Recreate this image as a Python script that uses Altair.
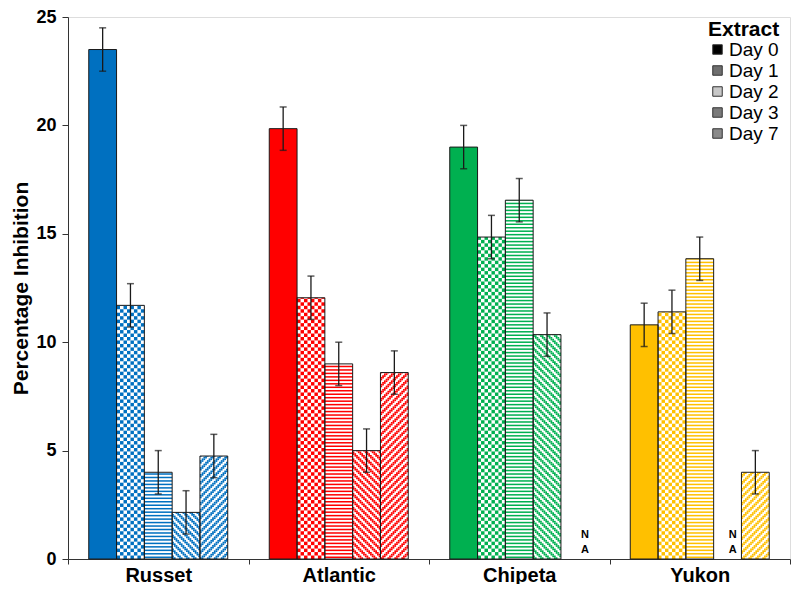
import math
import altair as alt
import pandas as pd

# ---------------- data ----------------
varieties = ["Russet", "Atlantic", "Chipeta", "Yukon"]
days = ["Day 0", "Day 1", "Day 2", "Day 3", "Day 7"]
variety_colors = ["#0070C0", "#FF0000", "#00B050", "#FFC000"]

russet = [23.5, 11.7, 4.0, 2.15, 4.75]
atlantic = [19.85, 12.05, 9.0, 5.0, 8.6]
chipeta = [19.0, 14.85, 16.55, 10.35, None]
yukon = [10.8, 11.4, 13.85, None, 4.0]

russet_err = [1.0, 1.0, 1.0, 1.0, 1.0]
atlantic_err = [1.0, 1.0, 1.0, 1.0, 1.0]
chipeta_err = [1.0, 1.0, 1.0, 1.0, None]
yukon_err = [1.0, 1.0, 1.0, None, 1.0]

y_ticks = [0, 5, 10, 15, 20, 25]
legend_grays = ["#000000", "#6e6e6e", "#c8c8c8", "#7a7a7a", "#8a8a8a"]

values = [russet, atlantic, chipeta, yukon]
errors = [russet_err, atlantic_err, chipeta_err, yukon_err]

# ---------------- style constants ----------------
FONT = "Liberation Sans"
W, H = 722, 542
FILL_RATIO = 0.77  # share of each category slot covered by its bars
CHK_N = 8          # checker columns per bar
DIAG_N = 16        # diagonal sub-columns per bar
CHK_H = 0.16       # checker row height (data units)
DIAG_H = 0.08      # diagonal row height (data units)
HS_P, HS_T = 0.16, 0.07   # horizontal stripe period / thickness

# ---------------- tables built from the arrays ----------------
bars, errs, nas, chk, hst, diag = [], [], [], [], [], []
for v, vals, es, col in zip(varieties, values, errors, variety_colors):
    for di, d in enumerate(days):
        val = vals[di]
        if val is None:
            nas.append(dict(v=v, d=d, y=0, t="N\nA"))
            continue
        bars.append(dict(v=v, d=d, y=val, f=col if di == 0 else "#ffffff"))
        errs.append(dict(v=v, d=d, lo=val - es[di], hi=val + es[di]))
        if di == 1:
            for r in range(math.ceil(val / CHK_H)):
                y0, y1 = r * CHK_H, min(val, (r + 1) * CHK_H)
                for c in range(CHK_N):
                    if (r + c) % 2 == 0:
                        chk.append(dict(v=v, s=f"{di}_{c:02d}", y=y0, y2=y1, f=col))
        elif di == 2:
            k = 0
            while k * HS_P < val:
                y0 = k * HS_P + (HS_P - HS_T) / 2
                y1 = min(val, y0 + HS_T)
                if y1 > y0:
                    hst.append(dict(v=v, d=d, y=y0, y2=y1, f=col))
                k += 1
        elif di in (3, 4):
            for r in range(math.ceil(val / DIAG_H)):
                y0, y1 = r * DIAG_H, min(val, (r + 1) * DIAG_H)
                for c in range(DIAG_N):
                    ph = (c + r) % 4 if di == 3 else (c - r) % 4
                    if ph < 2:
                        diag.append(dict(v=v, s=f"{di}_{c:02d}", y=y0, y2=y1, f=col))

bars_df, errs_df, nas_df = pd.DataFrame(bars), pd.DataFrame(errs), pd.DataFrame(nas)
chk_df, hst_df, diag_df = pd.DataFrame(chk), pd.DataFrame(hst), pd.DataFrame(diag)
legend_df = pd.DataFrame({"Day": days})

chk_domain = [f"{d}_{c:02d}" for d in range(5) for c in range(CHK_N)]
diag_domain = [f"{d}_{c:02d}" for d in range(5) for c in range(DIAG_N)]

# ---------------- encodings ----------------
xscale = alt.Scale(domain=varieties, paddingInner=0, paddingOuter=0)
xaxis = alt.Axis(title=None, labelAngle=0, labelFont=FONT, labelFontSize=20,
                 labelFontWeight="bold", labelColor="#000", tickBand="extent",
                 tickSize=5, tickColor="#333", domainColor="#333", labelPadding=1)
yscale = alt.Scale(domain=[0, 25], nice=False, zero=True)
yaxis = alt.Axis(values=y_ticks, title="Percentage Inhibition", grid=False,
                 labelFont=FONT, labelFontSize=18, labelFontWeight="bold",
                 labelColor="#000", tickSize=6, tickColor="#333", domainColor="#333",
                 labelPadding=6, titleFont=FONT, titleFontSize=21,
                 titleFontWeight="bold", titleColor="#000", titlePadding=4)


def X():
    return alt.X("v:N", scale=xscale, axis=xaxis, sort=varieties)


def off_scale(domain):
    # empty slots on both sides keep the bars to FILL_RATIO of each category slot
    total = len(domain) * (1 / FILL_RATIO - 1) / 2
    k = int(math.floor(total))
    frac = total - k
    full = [f"<{i}" for i in range(k)] + list(domain) + [f">{i}" for i in range(k)]
    return alt.Scale(domain=full, paddingInner=0, paddingOuter=frac), full


def off_day():
    sc, full = off_scale(days)
    return alt.XOffset("d:N", scale=sc, sort=full)


def off_sub(domain):
    sc, full = off_scale(domain)
    return alt.XOffset("s:N", scale=sc, sort=full)


base = alt.Chart(bars_df).mark_bar(strokeWidth=0).encode(
    x=X(), xOffset=off_day(),
    y=alt.Y("y:Q", scale=yscale, axis=yaxis),
    fill=alt.Fill("f:N", scale=None),
)

chk_layer = alt.Chart(chk_df).mark_bar(strokeWidth=0).encode(
    x=X(), xOffset=off_sub(chk_domain),
    y=alt.Y("y:Q", scale=yscale, axis=yaxis), y2="y2:Q",
    fill=alt.Fill("f:N", scale=None),
)

hst_layer = alt.Chart(hst_df).mark_bar(strokeWidth=0).encode(
    x=X(), xOffset=off_day(),
    y=alt.Y("y:Q", scale=yscale, axis=yaxis), y2="y2:Q",
    fill=alt.Fill("f:N", scale=None),
)

diag_layer = alt.Chart(diag_df).mark_bar(strokeWidth=0).encode(
    x=X(), xOffset=off_sub(diag_domain),
    y=alt.Y("y:Q", scale=yscale, axis=yaxis), y2="y2:Q",
    fill=alt.Fill("f:N", scale=None),
)

outline = alt.Chart(bars_df).mark_bar(fill="#ffffff", fillOpacity=0, stroke="#1a1a1a",
                                      strokeWidth=1).encode(
    x=X(), xOffset=off_day(),
    y=alt.Y("y:Q", scale=yscale, axis=yaxis),
)

err_rule = alt.Chart(errs_df).mark_rule(color="#1a1a1a", strokeWidth=1.3).encode(
    x=X(), xOffset=off_day(),
    y=alt.Y("lo:Q", scale=yscale, axis=yaxis), y2="hi:Q",
)
cap_lo = alt.Chart(errs_df).mark_tick(color="#1a1a1a", thickness=1.5, size=7,
                                      orient="horizontal").encode(
    x=X(), xOffset=off_day(), y=alt.Y("lo:Q", scale=yscale, axis=yaxis),
)
cap_hi = alt.Chart(errs_df).mark_tick(color="#1a1a1a", thickness=1.5, size=7,
                                      orient="horizontal").encode(
    x=X(), xOffset=off_day(), y=alt.Y("hi:Q", scale=yscale, axis=yaxis),
)

na_text = alt.Chart(nas_df).mark_text(font=FONT, fontSize=11, fontWeight="bold",
                                      color="#000", baseline="bottom", lineBreak="\n",
                                      lineHeight=15, dy=-19).encode(
    x=X(), xOffset=off_day(),
    y=alt.Y("y:Q", scale=yscale, axis=yaxis),
    text="t:N",
)

legend_layer = alt.Chart(legend_df).mark_square(size=90, opacity=1, clip=True).encode(
    x=alt.value(-200), y=alt.value(-200),
    color=alt.Color("Day:N", sort=days,
                    scale=alt.Scale(domain=days, range=legend_grays),
                    legend=alt.Legend(
                        orient="none", legendX=640, legendY=2,
                        title="Extract", titleFont=FONT, titleFontSize=21,
                        titleFontWeight="bold", titleColor="#000", titlePadding=0,
                        labelFont=FONT, labelFontSize=19, labelColor="#000",
                        symbolType="square", symbolSize=90, symbolStrokeColor="#333",
                        symbolStrokeWidth=1, symbolOpacity=1, rowPadding=1,
                        labelOffset=2)),
)

chart = alt.layer(
    base, chk_layer, hst_layer, diag_layer, outline, err_rule, cap_lo, cap_hi,
    na_text, legend_layer,
).resolve_scale(xOffset="independent").properties(
    width=W, height=H,
    autosize=alt.AutoSizeParams(type="none"),
    padding={"left": 60, "top": 9, "right": 2, "bottom": 25},
).configure_view(stroke="#404040", strokeWidth=1).configure(background="#ffffff")

chart.save("out.html", embed_options={"renderer": "svg", "actions": False})
